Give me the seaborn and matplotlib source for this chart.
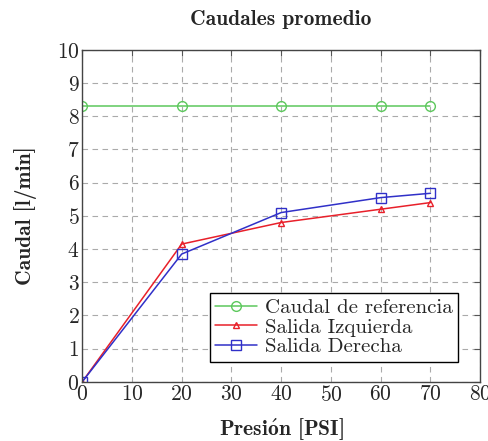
import numpy as np
import pandas as pd
import matplotlib
matplotlib.use("Agg")
import matplotlib.pyplot as plt
import seaborn as sns

# datos
presion = [0, 20, 40, 60, 70]
caudal_ref = [8.3, 8.3, 8.3, 8.3, 8.3]
salida_izq = [0, 4.15, 4.8, 5.2, 5.4]
salida_der = [0, 3.85, 5.1, 5.55, 5.68]

sns.set_style("white")
plt.rcParams['font.family'] = ['cmr10', 'DejaVu Serif']
plt.rcParams['axes.formatter.use_mathtext'] = True
plt.rcParams['mathtext.fontset'] = 'cm'

fig = plt.figure(figsize=(4.89, 4.41), dpi=100)
ax = fig.add_axes([0.168, 0.134, 0.814, 0.753])

series = [
    (caudal_ref, "Caudal de referencia", "#5cc85c", "o", 7),
    (salida_izq, "Salida Izquierda", "#e8202a", "^", 5),
    (salida_der, "Salida Derecha", "#3030c8", "s", 7),
]
for vals, lab, col, mk, ms in series:
    sns.lineplot(x=presion, y=vals, ax=ax, color=col, marker=mk,
                 markersize=ms, linewidth=1.1, label=lab,
                 markerfacecolor="none", markeredgecolor=col,
                 markeredgewidth=1.0)

ax.set_xlim(0, 80)
ax.set_ylim(0, 10)
ax.set_xticks(np.arange(0, 81, 10))
ax.set_yticks(np.arange(0, 11, 1))
ax.grid(True, linestyle=(0, (5, 4)), color="#aaaaaa", linewidth=0.8)
ax.tick_params(direction="in", top=True, right=True, length=4,
               labelsize=15.5, color="#555555", pad=2)
for s in ax.spines.values():
    s.set_color("#444444")
    s.set_linewidth(1.0)

bold = ['cmb10', 'DejaVu Serif']
ax.set_title("Caudales promedio", fontsize=15.5, family=bold, pad=18)
ax.set_xlabel(r"Presi$\mathbf{\acute{o}}$n [PSI]", fontsize=15.5, family=bold, labelpad=8)
ax.set_ylabel("Caudal [l/min]", fontsize=15.5, family=bold, labelpad=14)

leg = ax.legend(loc="lower right", fontsize=15, frameon=True, fancybox=False,
                edgecolor="black", framealpha=1, handlelength=2.0,
                borderpad=0.25, labelspacing=0.05, handletextpad=0.4,
                bbox_to_anchor=(0.97, 0.03))
leg.get_frame().set_linewidth(1.0)

fig.savefig("out.png", dpi=100)
